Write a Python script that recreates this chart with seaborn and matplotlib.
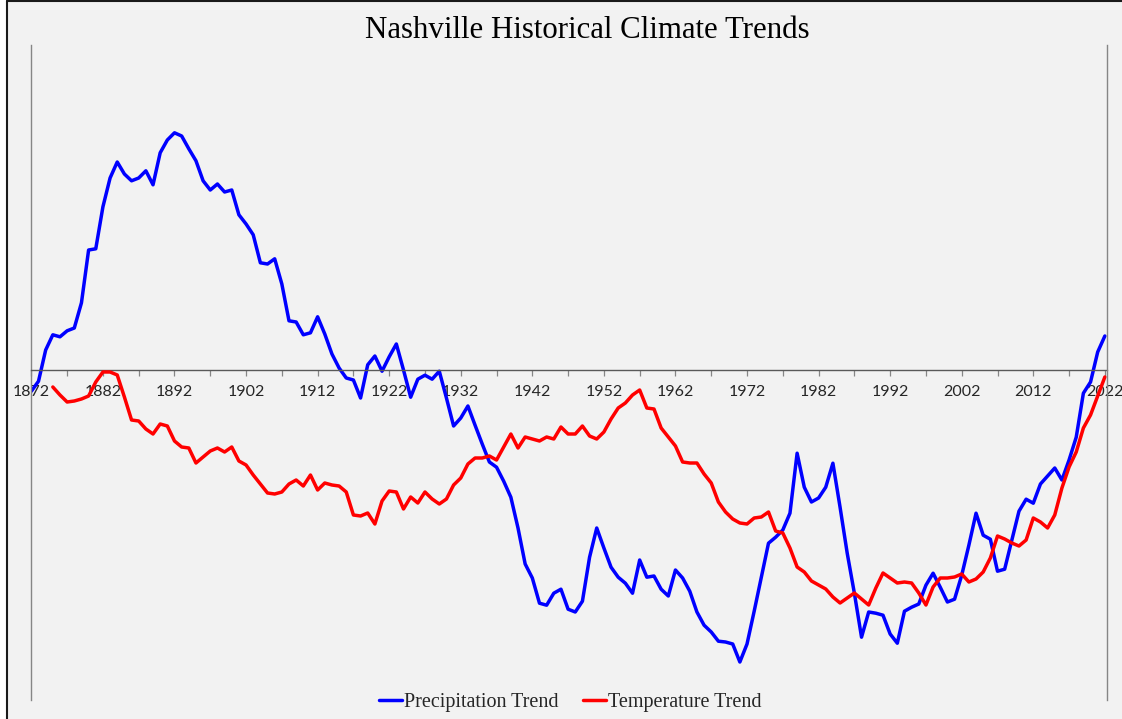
import matplotlib
matplotlib.use("Agg")
import matplotlib.pyplot as plt
from matplotlib.lines import Line2D
from matplotlib.patches import Rectangle
import numpy as np
import pandas as pd
import seaborn as sns

# Annual trend values (anomalies relative to the long-term baseline)
precip_years = list(range(1872, 2023))
precip_trend = [
    -0.53, -0.28, 0.50, 0.88, 0.83, 0.98, 1.05, 1.68, 3.00, 3.03,
    4.08, 4.80, 5.20, 4.90, 4.73, 4.80, 4.98, 4.63, 5.43, 5.75,
    5.93, 5.85, 5.53, 5.23, 4.73, 4.50, 4.65, 4.45, 4.50, 3.88,
    3.65, 3.38, 2.68, 2.65, 2.78, 2.15, 1.23, 1.20, 0.88, 0.93,
    1.33, 0.90, 0.40, 0.05, -0.20, -0.25, -0.70, 0.13, 0.35, -0.03,
    0.33, 0.65, 0.00, -0.68, -0.23, -0.13, -0.23, -0.03, -0.70, -1.40,
    -1.20, -0.90, -1.38, -1.85, -2.30, -2.43, -2.78, -3.18, -3.95, -4.85,
    -5.20, -5.83, -5.88, -5.58, -5.48, -5.98, -6.05, -5.78, -4.68, -3.95,
    -4.45, -4.93, -5.18, -5.33, -5.58, -4.75, -5.18, -5.15, -5.48, -5.65,
    -5.00, -5.20, -5.53, -6.05, -6.38, -6.55, -6.78, -6.80, -6.85, -7.30,
    -6.85, -6.03, -5.18, -4.33, -4.18, -4.00, -3.58, -2.08, -2.93, -3.30,
    -3.20, -2.93, -2.33, -3.43, -4.58, -5.58, -6.68, -6.05, -6.08, -6.13,
    -6.60, -6.83, -6.03, -5.93, -5.85, -5.38, -5.08, -5.43, -5.80, -5.73,
    -5.13, -4.38, -3.58, -4.13, -4.23, -5.03, -4.98, -4.25, -3.53, -3.23,
    -3.33, -2.85, -2.65, -2.45, -2.75, -2.25, -1.68, -0.58, -0.30, 0.45,
    0.85,
]

temp_years = list(range(1875, 2023))
temp_trend = [
    -0.17, -0.25, -0.32, -0.31, -0.29, -0.26, -0.12,
    -0.02, -0.02, -0.05, -0.27, -0.50, -0.51, -0.59, -0.64, -0.54, -0.56,
    -0.71, -0.77, -0.78, -0.93, -0.87, -0.81, -0.78, -0.82, -0.77, -0.91,
    -0.95, -1.05, -1.14, -1.23, -1.24, -1.22, -1.14, -1.10, -1.16, -1.05,
    -1.20, -1.13, -1.15, -1.16, -1.22, -1.45, -1.46, -1.43, -1.54, -1.31,
    -1.21, -1.22, -1.39, -1.27, -1.33, -1.22, -1.29, -1.34, -1.29, -1.15,
    -1.08, -0.94, -0.88, -0.88, -0.86, -0.90, -0.77, -0.64, -0.78, -0.67,
    -0.69, -0.71, -0.67, -0.69, -0.57, -0.64, -0.64, -0.56, -0.66, -0.69,
    -0.62, -0.49, -0.38, -0.33, -0.25, -0.20, -0.38, -0.39, -0.58, -0.67,
    -0.76, -0.92, -0.93, -0.93, -1.04, -1.13, -1.32, -1.42, -1.49, -1.53,
    -1.54, -1.48, -1.47, -1.42, -1.61, -1.63, -1.78, -1.97, -2.02, -2.11,
    -2.15, -2.19, -2.27, -2.33, -2.28, -2.23, -2.29, -2.35, -2.18, -2.03,
    -2.08, -2.13, -2.12, -2.13, -2.23, -2.35, -2.17, -2.08, -2.08, -2.07,
    -2.04, -2.12, -2.09, -2.02, -1.88, -1.66, -1.69, -1.73, -1.76, -1.70,
    -1.48, -1.52, -1.58, -1.45, -1.18, -0.97, -0.82, -0.58, -0.45, -0.26,
    -0.07,
]

tick_years = list(range(1872, 2023, 5))
label_years = list(range(1872, 2023, 10))

title_text = "Nashville Historical Climate Trends"
precip_label = "Precipitation Trend"
temp_label = "Temperature Trend"

BG = "#f2f2f2"
AXIS_GRAY = "#868686"
BLUE = "#0000ff"
RED = "#ff0000"

sns.set_theme(style="white")

W, H = 1122, 719
fig = plt.figure(figsize=(W / 100, H / 100), dpi=100, facecolor=BG)

# white margin to the left and above the chart panel, with a dark edge line
fig.add_artist(Rectangle((0, 0), 7 / W, 1, transform=fig.transFigure,
                         facecolor="white", edgecolor="none"))
fig.add_artist(Rectangle((0, 718 / H), 1, 1 / H, transform=fig.transFigure,
                         facecolor="white", edgecolor="none"))
fig.add_artist(Line2D([7 / W, 7 / W], [0, 718 / H], transform=fig.transFigure,
                      color="#1a1a1a", lw=1.5))
fig.add_artist(Line2D([7 / W, 1], [718 / H, 718 / H], transform=fig.transFigure,
                      color="#1a1a1a", lw=1.5))

left, right, top, bottom = 31, 1107, 45, 700
ax = fig.add_axes([left / W, 1 - bottom / H, (right - left) / W, (bottom - top) / H])
ax.set_facecolor(BG)

df_p = pd.DataFrame({"year": precip_years, "value": precip_trend})
df_t = pd.DataFrame({"year": temp_years, "value": temp_trend})

sns.lineplot(data=df_p, x="year", y="value", ax=ax, color=BLUE, linewidth=2.5,
             legend=False)
ax.set_xlim(1871.95, 2022.3)
ax.set_ylim(-8.25, 8.125)

ax2 = ax.twinx()
sns.lineplot(data=df_t, x="year", y="value", ax=ax2, color=RED, linewidth=2.5,
             legend=False)
ax2.set_ylim(-3.30, 3.25)
ax2.patch.set_visible(False)

# category axis crossing at zero
ax.spines["bottom"].set_position(("data", 0))
ax.spines["bottom"].set_color("#595959")
ax.spines["bottom"].set_linewidth(1.0)
ax.spines["top"].set_visible(False)
ax.spines["right"].set_visible(False)
ax.spines["left"].set_color(AXIS_GRAY)
ax.spines["left"].set_linewidth(1.0)

for s in ["top", "bottom", "left"]:
    ax2.spines[s].set_visible(False)
ax2.spines["right"].set_color(AXIS_GRAY)
ax2.spines["right"].set_linewidth(1.0)

ax.set_xticks(tick_years)
ax.set_xticklabels([str(y) if y in label_years else "" for y in tick_years],
                   fontfamily="Lato", fontsize=11.5, color="#262626")
ax.tick_params(axis="x", direction="out", length=4.0, width=0.9, color=AXIS_GRAY,
               pad=7.0, bottom=True)
ax.set_yticks([])
ax2.set_yticks([])
ax.set_xlabel("")
ax.set_ylabel("")
ax2.set_ylabel("")
ax.grid(False)
ax2.grid(False)

fig.text(587 / W, 1 - 31 / H, title_text, ha="center", va="center",
         fontfamily="Liberation Serif", fontsize=22.2, color="#000000")

handles = [Line2D([], [], color=BLUE, lw=2.5), Line2D([], [], color=RED, lw=2.5)]
fig.legend(handles, [precip_label, temp_label], loc="center",
           bbox_to_anchor=(570 / W, 1 - 702 / H), ncol=2, frameon=False,
           prop={"family": "Liberation Serif", "size": 14.5},
           handlelength=1.15, handletextpad=0.1, columnspacing=1.2)

fig.savefig("out.png", dpi=100, facecolor=fig.get_facecolor())
